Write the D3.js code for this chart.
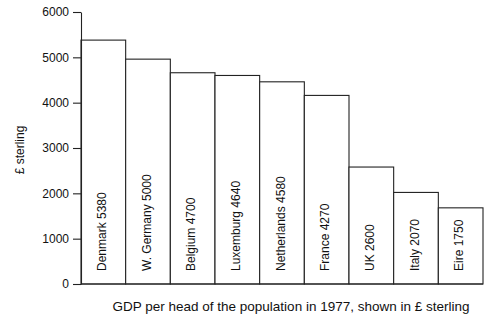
<!DOCTYPE html>
<html><head><meta charset="utf-8">
<script src="https://cdn.jsdelivr.net/npm/d3@7"></script>
<style>
html,body{margin:0;padding:0;background:#fff;}
svg{display:block;font-family:"Liberation Sans",Arial,Helvetica,sans-serif;}
</style></head>
<body><svg id="chart" width="488" height="324"></svg>
<script>
const countries = ["Denmark","W. Germany","Belgium","Luxemburg","Netherlands","France","UK","Italy","Eire"];
const labelValues = [5380, 5000, 4700, 4640, 4580, 4270, 2600, 2070, 1750];
const barValues = [5380, 4960, 4660, 4600, 4460, 4160, 2580, 2020, 1680];
const yTicks = [0, 1000, 2000, 3000, 4000, 5000, 6000];
const yTitle = "£ sterling";
const xTitle = "GDP per head of the population in 1977, shown in £ sterling";

const svg = d3.select("#chart");
const ink = "#222";
const x = d3.scaleBand().domain(countries).range([81, 483]).padding(0);
const y = d3.scaleLinear().domain([0, 6000]).range([284, 12]);

// bars
svg.append("g").selectAll("rect").data(countries).join("rect")
  .attr("x", d => x(d))
  .attr("y", (d, i) => y(barValues[i]))
  .attr("width", x.bandwidth())
  .attr("height", (d, i) => y(0) - y(barValues[i]))
  .attr("fill", "#fff").attr("stroke", ink).attr("stroke-width", 1.1);

// bar labels
svg.append("g").selectAll("text").data(countries).join("text")
  .attr("transform", d => `translate(${x(d) + x.bandwidth() / 2 + 2.5},271) rotate(-90)`)
  .attr("text-anchor", "start")
  .attr("font-size", 12).attr("fill", "#111")
  .text((d, i) => `${d} ${labelValues[i]}`);

// y axis
const yAxis = svg.append("g").attr("transform", "translate(81,0)")
  .call(d3.axisLeft(y).tickValues(yTicks).tickFormat(d3.format("d")).tickSize(8).tickSizeOuter(0).tickPadding(4));
yAxis.select(".domain").attr("stroke", ink).attr("stroke-width", 1.1);
yAxis.selectAll(".tick line").attr("stroke", ink).attr("stroke-width", 1.1);
yAxis.selectAll(".tick text").attr("font-size", 12).attr("fill", "#111")
  .attr("font-family", "Liberation Sans, Arial, sans-serif");

// baseline
svg.append("line").attr("x1", 81).attr("x2", 483).attr("y1", y(0)).attr("y2", y(0))
  .attr("stroke", ink).attr("stroke-width", 1.1);

// titles
svg.append("text").attr("transform", "translate(24,150) rotate(-90)")
  .attr("text-anchor", "middle").attr("font-size", 12).attr("fill", "#111").text(yTitle);
svg.append("text").attr("x", 291).attr("y", 311)
  .attr("text-anchor", "middle").attr("font-size", 13.5).attr("fill", "#111").text(xTitle);
</script></body></html>
